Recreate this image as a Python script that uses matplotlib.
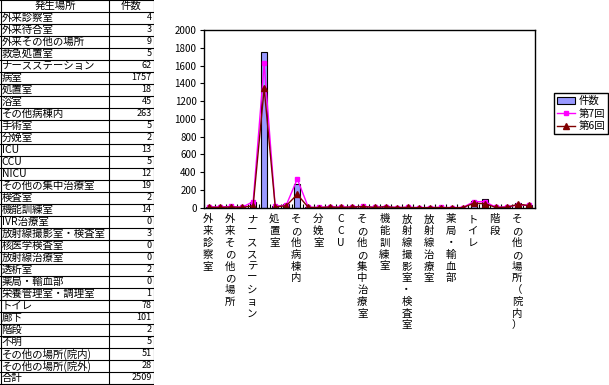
import matplotlib

matplotlib.use("Agg")
import matplotlib.pyplot as plt
import numpy as np

plt.rcParams["font.family"] = ["Noto Sans CJK JP", "DejaVu Sans"]

places = [
    "外来診察室", "外来待合室", "外来その他の場所", "救急処置室", "ナースステーション",
    "病室", "処置室", "浴室", "その他病棟内", "手術室",
    "分娩室", "ICU", "CCU", "NICU", "その他の集中治療室",
    "検査室", "機能訓練室", "IVR治療室", "放射線撮影室・検査室", "核医学検査室",
    "放射線治療室", "透析室", "薬局・輸血部", "栄養管理室・調理室", "トイレ",
    "廊下", "階段", "不明", "その他の場所(院内)", "その他の場所(院外)",
]
counts = [4, 3, 9, 5, 62, 1757, 18, 45, 263, 5,
          2, 13, 5, 12, 19, 2, 14, 0, 3, 0,
          0, 2, 0, 1, 78, 101, 2, 5, 51, 28]
round7 = [10, 8, 15, 5, 68, 1625, 15, 30, 323, 5,
          3, 10, 5, 10, 15, 5, 12, 2, 5, 1,
          2, 3, 1, 2, 68, 68, 5, 10, 30, 25]
round6 = [5, 3, 8, 3, 22, 1344, 10, 22, 150, 3,
          2, 8, 3, 8, 12, 3, 10, 1, 3, 0,
          1, 2, 0, 1, 50, 45, 3, 5, 38, 25]
total = 2509

W, H = 609, 385
fig = plt.figure(figsize=(W / 100, H / 100), dpi=100)

# ---- table on the left (pixel coordinates)
tax = fig.add_axes([0, 0, 154 / W, 1])
tax.set_xlim(0, 154)
tax.set_ylim(385, 0)
tax.axis("off")
rows = [("発生場所", "件数")] + list(zip(places, [str(c) for c in counts])) + [("合計", str(total))]
rh = 384 / len(rows)
for i, (name, val) in enumerate(rows):
    y0 = i * rh
    tax.plot([0, 154], [y0, y0], color="black", lw=0.8)
    yc = y0 + rh / 2
    if i == 0:
        tax.text(55, yc, name, ha="center", va="center", fontsize=7.5)
        tax.text(131, yc, val, ha="center", va="center", fontsize=7.5)
    else:
        tax.text(1.5, yc, name, ha="left", va="center", fontsize=7.5)
        tax.text(151.5, yc, val, ha="right", va="center", fontsize=6.5)
tax.plot([0, 154], [383.5, 383.5], color="black", lw=0.8)
for xv in (0.5, 109, 153.5):
    tax.plot([xv, xv], [0, 383.5], color="black", lw=0.8)

# ---- chart
x0, x1, ytop, ybot = 203.5, 534.5, 30, 207.7
ax = fig.add_axes([x0 / W, 1 - ybot / H, (x1 - x0) / W, (ybot - ytop) / H])
x = np.arange(len(places))
hb = ax.bar(x, counts, width=0.57, color="#9999FF", edgecolor="black", linewidth=0.8, label="件数")
h7, = ax.plot(x, round7, color="#FF00FF", lw=1, marker="s", ms=3.5, label="第7回")
h6, = ax.plot(x, round6, color="#800000", lw=1, marker="^", ms=4, label="第6回")
ax.set_xlim(-0.5, len(places) - 0.5)
ax.set_ylim(0, 2000)
ax.set_yticks(np.arange(0, 2001, 200))
ax.tick_params(axis="y", labelsize=7, length=3, width=0.8, pad=2)
ax.set_xticks(np.arange(len(places) + 1) - 0.5)
ax.set_xticklabels([])
ax.tick_params(axis="x", direction="in", length=3, width=0.8)
for s in ax.spines.values():
    s.set_linewidth(1)

for i in range(0, len(places), 2):
    label = "\n".join(places[i].replace("(", "（").replace(")", "）"))
    ax.text(i - 0.1, -75, label, ha="center", va="top", fontsize=7.5, linespacing=1.22)

fig.legend([hb, h7, h6], ["件数", "第7回", "第6回"], loc="center left",
           bbox_to_anchor=(554 / W, 1 - 113.5 / H), fontsize=7.5,
           frameon=True, fancybox=False, edgecolor="black", framealpha=1,
           borderpad=0.25, labelspacing=0.25, handlelength=1.8, handletextpad=0.3,
           borderaxespad=0)

fig.savefig("out.png", dpi=100, facecolor="white")
